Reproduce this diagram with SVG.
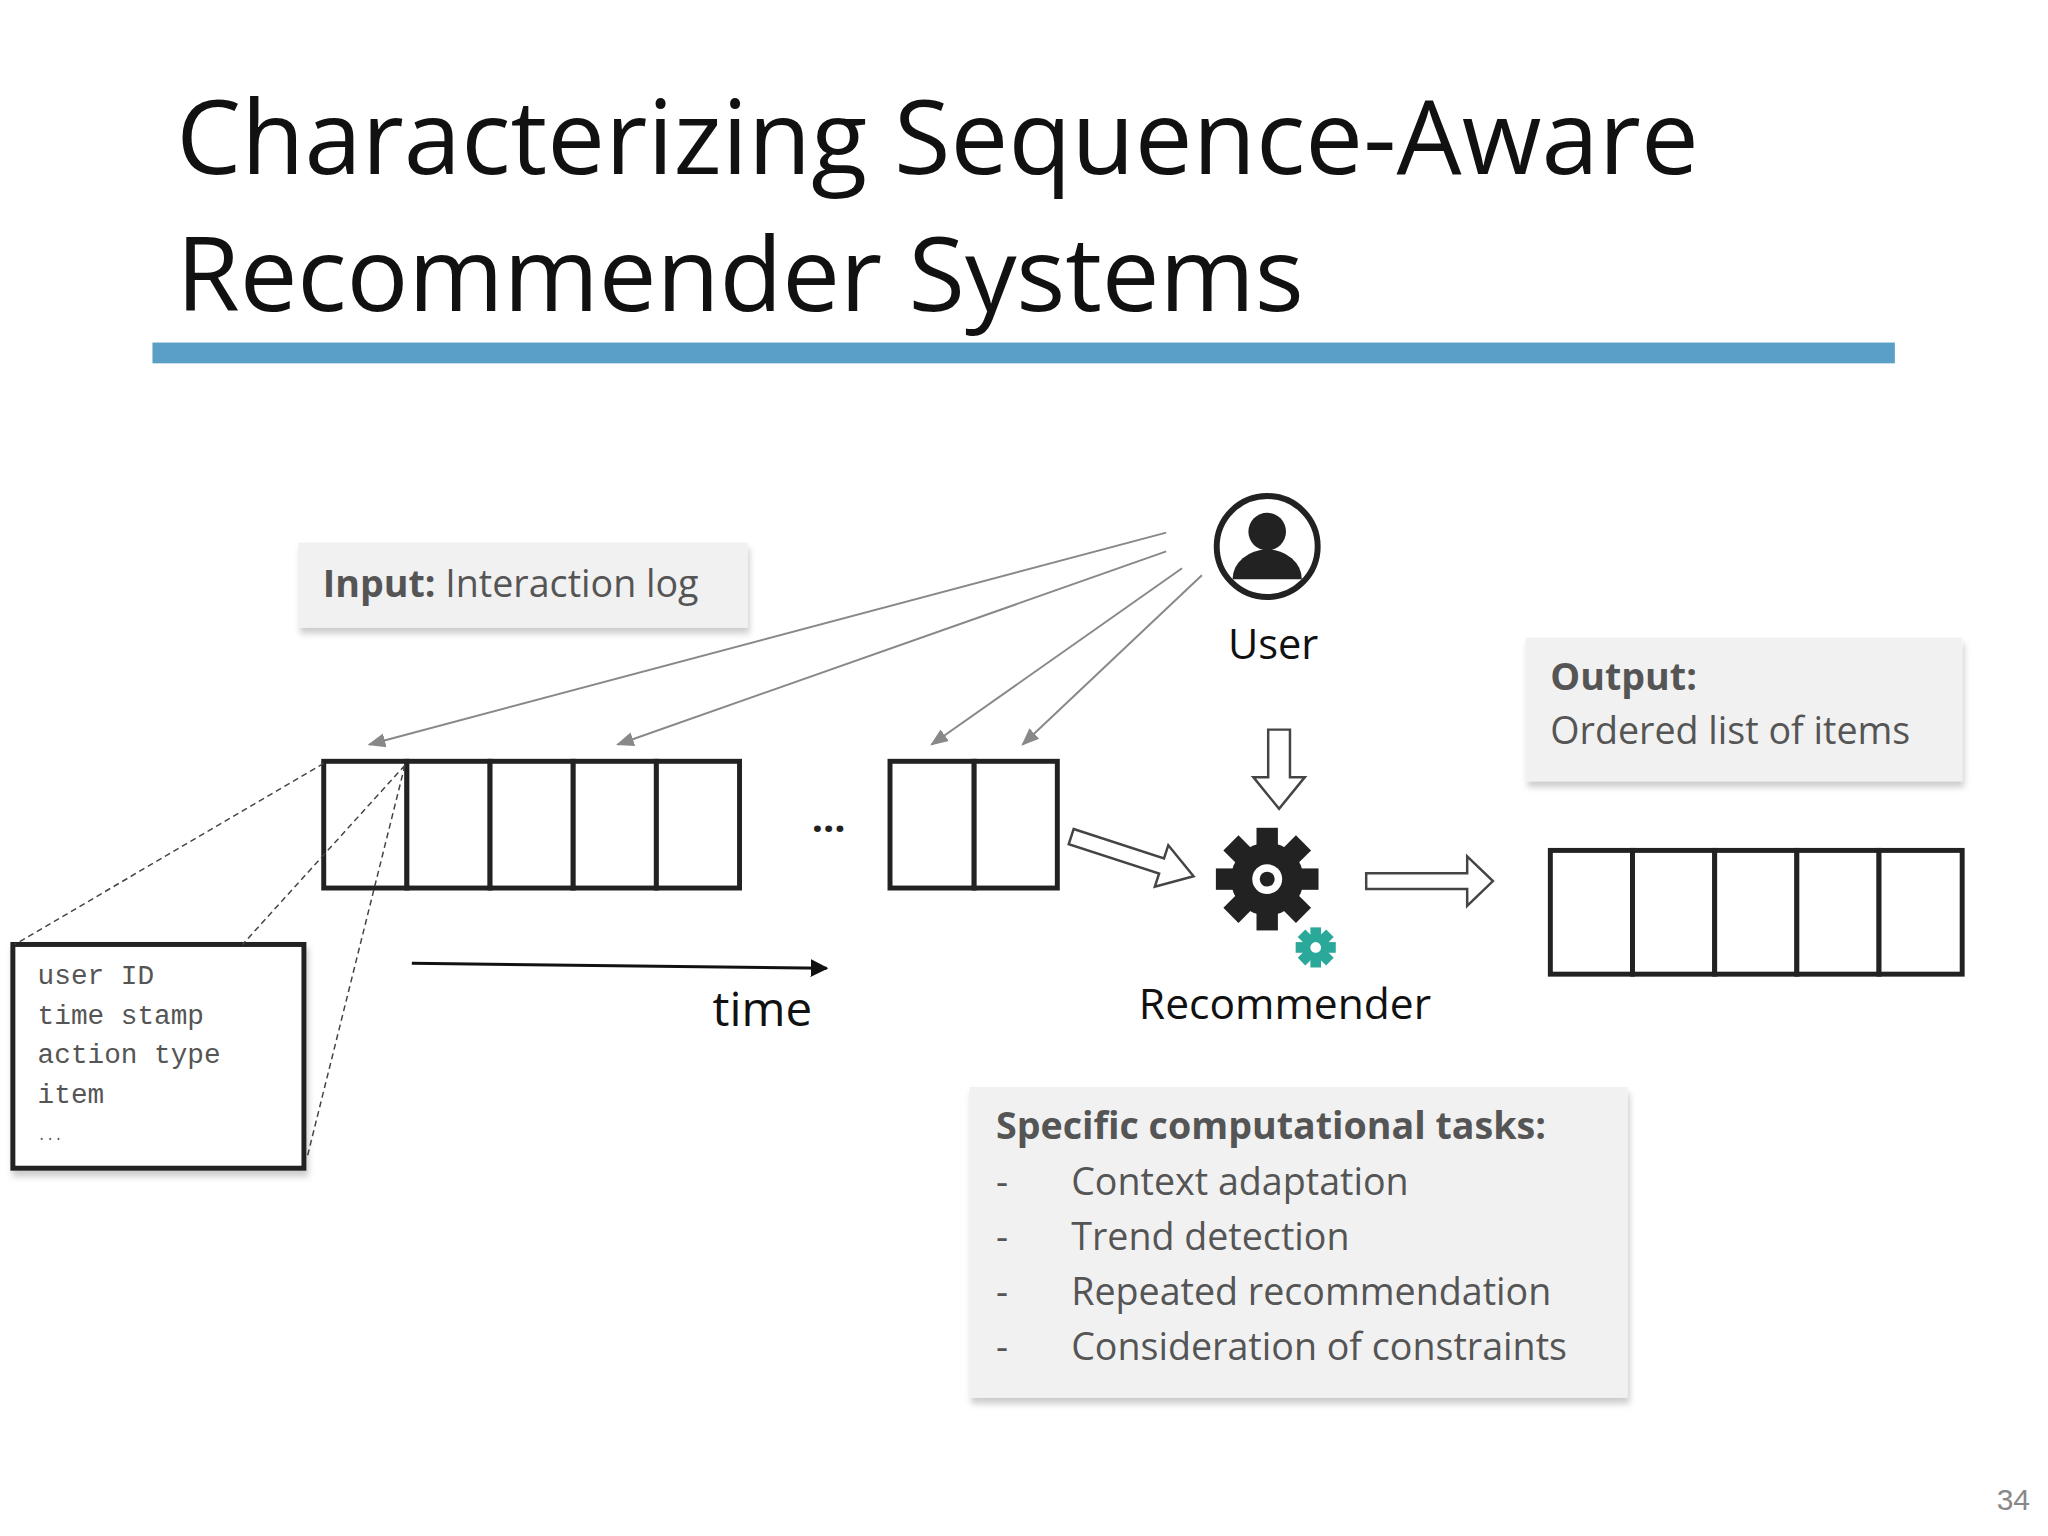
<svg xmlns="http://www.w3.org/2000/svg" width="2048" height="1536" viewBox="0 0 2048 1536">
<style>
.t{font-family:"Open Sans","Noto Sans",sans-serif}
.g{fill:#555}
.cell{fill:#fff;stroke:#222;stroke-width:5}
.lbl{fill:#f1f1f1;filter:url(#sh)}
.dash{stroke:#444;stroke-width:1.5;stroke-dasharray:6 4;fill:none}
.ua{stroke:#888;stroke-width:2;fill:none;marker-end:url(#ga)}
.hol{fill:#fff;stroke:#444;stroke-width:2.5}
</style>
<defs>
<filter id="sh" x="-5%" y="-5%" width="115%" height="125%"><feDropShadow dx="2" dy="6" stdDeviation="3" flood-color="#000" flood-opacity="0.2"/></filter>
<marker id="ga" viewBox="0 0 10 10" refX="9" refY="5" markerWidth="9" markerHeight="9" orient="auto"><path d="M0,1 L10,5 L0,9 z" fill="#888"/></marker>
<marker id="ba" viewBox="0 0 10 10" refX="9" refY="5" markerWidth="6" markerHeight="6" orient="auto"><path d="M0,0 L10,5 L0,10 z" fill="#111"/></marker>
</defs>
<rect width="2048" height="1536" fill="#fff"/>
<g transform="scale(0.99)">
<text class="t" x="178" y="176" font-size="104" textLength="1538" fill="#111">Characterizing Sequence-Aware</text>
<text class="t" x="178" y="314" font-size="104" textLength="1139" fill="#111">Recommender Systems</text>
<rect x="154" y="346" width="1760" height="21" fill="#5a9fc6"/>

<g id="input"><rect class="lbl" x="301" y="548" width="454" height="86"/>
<text class="t g" x="326" y="603" font-size="38"><tspan font-weight="bold">Input:</tspan> Interaction log</text></g>

<g id="user"><circle cx="1280" cy="552" r="51" fill="#fff" stroke="#222" stroke-width="6"/>
<circle cx="1280" cy="537" r="19" fill="#222"/><path d="M1245,585 a35,30 0 0 1 70,0 z" fill="#222"/>
<text class="t" x="1286" y="666" font-size="42" text-anchor="middle" fill="#111">User</text></g>

<g id="seq1">
<rect class="cell" x="327" y="769" width="84" height="128"/><rect class="cell" x="411" y="769" width="84" height="128"/><rect class="cell" x="495" y="769" width="84" height="128"/><rect class="cell" x="579" y="769" width="84" height="128"/><rect class="cell" x="663" y="769" width="84" height="128"/></g>
<text class="t" x="837" y="840" font-size="40" font-weight="bold" text-anchor="middle" fill="#222">...</text>
<g id="seq2"><rect class="cell" x="899" y="769" width="85" height="128"/><rect class="cell" x="984" y="769" width="84" height="128"/></g>

<g id="detail"><rect class="cell" x="13" y="954" width="294" height="226" filter="url(#sh)"/>
<g font-family="Liberation Mono,monospace" font-size="28" fill="#555">
<text x="38" y="994">user ID</text><text x="38" y="1034">time stamp</text><text x="38" y="1074">action type</text><text x="38" y="1114">item</text><text x="38" y="1152" font-size="14">...</text></g></g>

<g id="connectors">
<path class="dash" d="M327,771 L15,954 M409,773 L245,954 M409,773 L310,1170"/>
<path class="ua" d="M1178,538 L373,752"/>
<path class="ua" d="M1178,557 L624,752"/>
<path class="ua" d="M1194,574 L941,752"/>
<path class="ua" d="M1214,581 L1033,752"/>
<path d="M416,973 L835,978" stroke="#111" stroke-width="3" marker-end="url(#ba)"/>
<path class="hol" d="M1281,737 h22 v48 h15 l-26,32 l-26,-32 h15 z"/>
<path class="hol" transform="translate(1082,845) rotate(18)" d="M0,-8 h96 v-14 l34,22 l-34,22 v-14 h-96 z"/>
<path class="hol" d="M1380,882 h102 v-17 l26,25 l-26,25 v-17 h-102 z"/>
</g>
<text class="t" x="770" y="1036" font-size="48" text-anchor="middle" fill="#111">time</text>

<g id="recommender">
<g transform="translate(1280,888) scale(1.08)" fill="#222">
<circle r="34"/>
<g id="teeth"><rect x="-10" y="-48" width="20" height="20"/><rect x="-10" y="28" width="20" height="20"/><rect x="28" y="-10" width="20" height="20"/><rect x="-48" y="-10" width="20" height="20"/></g>
<use href="#teeth" transform="rotate(45)"/>
<circle r="14" fill="#fff"/><circle r="7"/></g>
<g transform="translate(1329,957) scale(1.35)" fill="#2aa89a">
<circle r="10"/><rect x="-4" y="-15" width="8" height="30"/><rect x="-15" y="-4" width="30" height="8"/><rect x="-4" y="-15" width="8" height="30" transform="rotate(45)"/><rect x="-4" y="-15" width="8" height="30" transform="rotate(-45)"/><circle r="4" fill="#fff"/></g>
<text class="t" x="1298" y="1029" font-size="43" text-anchor="middle" fill="#111">Recommender</text></g>

<g id="output"><rect class="lbl" x="1541" y="644" width="441" height="145"/>
<text class="t g" x="1566" y="697" font-size="38" font-weight="bold">Output:</text>
<text class="t g" x="1566" y="752" font-size="38">Ordered list of items</text></g>
<g id="outseq">
<rect class="cell" x="1566" y="859" width="83" height="125"/><rect class="cell" x="1649" y="859" width="83" height="125"/><rect class="cell" x="1732" y="859" width="83" height="125"/><rect class="cell" x="1815" y="859" width="83" height="125"/><rect class="cell" x="1898" y="859" width="84" height="125"/></g>

<g id="tasks"><rect class="lbl" x="979" y="1098" width="665" height="314"/>
<g class="t g" font-size="38">
<text x="1006" y="1151" font-weight="bold">Specific computational tasks:</text>
<text x="1006" y="1207">-</text><text x="1082" y="1207">Context adaptation</text>
<text x="1006" y="1263">-</text><text x="1082" y="1263">Trend detection</text>
<text x="1006" y="1318">-</text><text x="1082" y="1318">Repeated recommendation</text>
<text x="1006" y="1374">-</text><text x="1082" y="1374">Consideration of constraints</text></g></g>
</g>
<text x="2030" y="1510" font-family="Liberation Sans,sans-serif" font-size="30" fill="#888" text-anchor="end">34</text>
</svg>
